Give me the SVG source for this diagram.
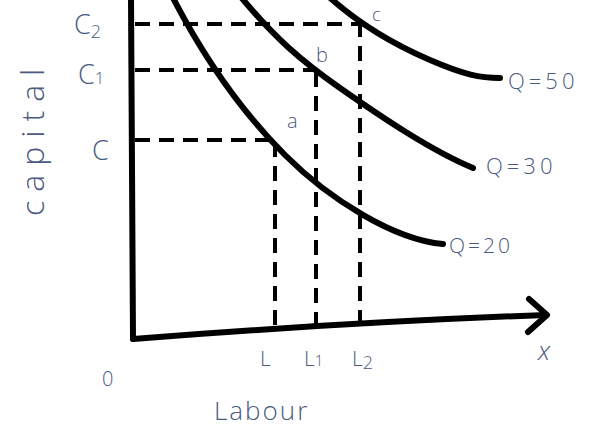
<svg xmlns="http://www.w3.org/2000/svg" width="608" height="439" viewBox="0 0 608 439">
<style>
.ln{fill:none;stroke:#000;stroke-width:6;stroke-linecap:round;stroke-linejoin:round}
.ds{fill:none;stroke:#000;stroke-width:4;stroke-dasharray:15 9}
.t{font-family:"Open Sans","Liberation Sans",sans-serif;fill:#4a5a80;font-weight:300}
</style>
<rect width="608" height="439" fill="#fff"/>
<g id="connectors">
<path class="ln" d="M131,-2 L133,339"/>
<path class="ln" d="M133,339 Q 350,322 546,315"/>
<path class="ln" d="M529,299 L547,315 L528,332"/>
<path class="ds" d="M135,24 H360"/>
<path class="ds" d="M135,70 H318"/>
<path class="ds" d="M135,140 H275"/>
<path class="ds" d="M275,142 V333"/>
<path class="ds" d="M316,72 V327"/>
<path class="ds" d="M360,22 V322"/>
</g>
<g id="q20"><path class="ln" d="M172,-4 C 205,60 240,110 285,155 S 395,240 443,244"/><text class="t" x="449" y="253" font-size="21" letter-spacing="3">Q=20</text></g>
<g id="q30"><path class="ln" d="M240,-4 C 275,38 300,60 340,88 S 430,150 473,168"/><text class="t" x="486" y="174" font-size="22" letter-spacing="4">Q=30</text></g>
<g id="q50"><path class="ln" d="M328,-4 C 360,25 395,45 430,60 S 480,78 500,78"/><text class="t" x="508" y="89" font-size="22" letter-spacing="4">Q=50</text></g>
<g id="labels">
<text class="t" x="287" y="128" font-size="20">a</text>
<text class="t" x="316" y="62" font-size="20">b</text>
<text class="t" x="372" y="21" font-size="18">c</text>
<text class="t" x="74" y="34" font-size="27">C<tspan font-size="18" dy="4">2</tspan></text>
<text class="t" x="78" y="84" font-size="27">C<tspan font-size="17" dy="0">1</tspan></text>
<text class="t" x="92" y="160" font-size="27">C</text>
<text class="t" x="260" y="366" font-size="21">L</text>
<text class="t" x="304" y="366" font-size="21">L<tspan font-size="15">1</tspan></text>
<text class="t" x="352" y="366" font-size="21">L<tspan font-size="18" dy="3">2</tspan></text>
<text class="t" x="538" y="360" font-size="26" font-style="italic">x</text>
<text class="t" x="102" y="386" font-size="20">0</text>
<text class="t" x="214" y="420" font-size="26" letter-spacing="2">Labour</text>
<text class="t" transform="translate(44,216) rotate(-90)" font-size="32" letter-spacing="9">capital</text>
</g>
</svg>
